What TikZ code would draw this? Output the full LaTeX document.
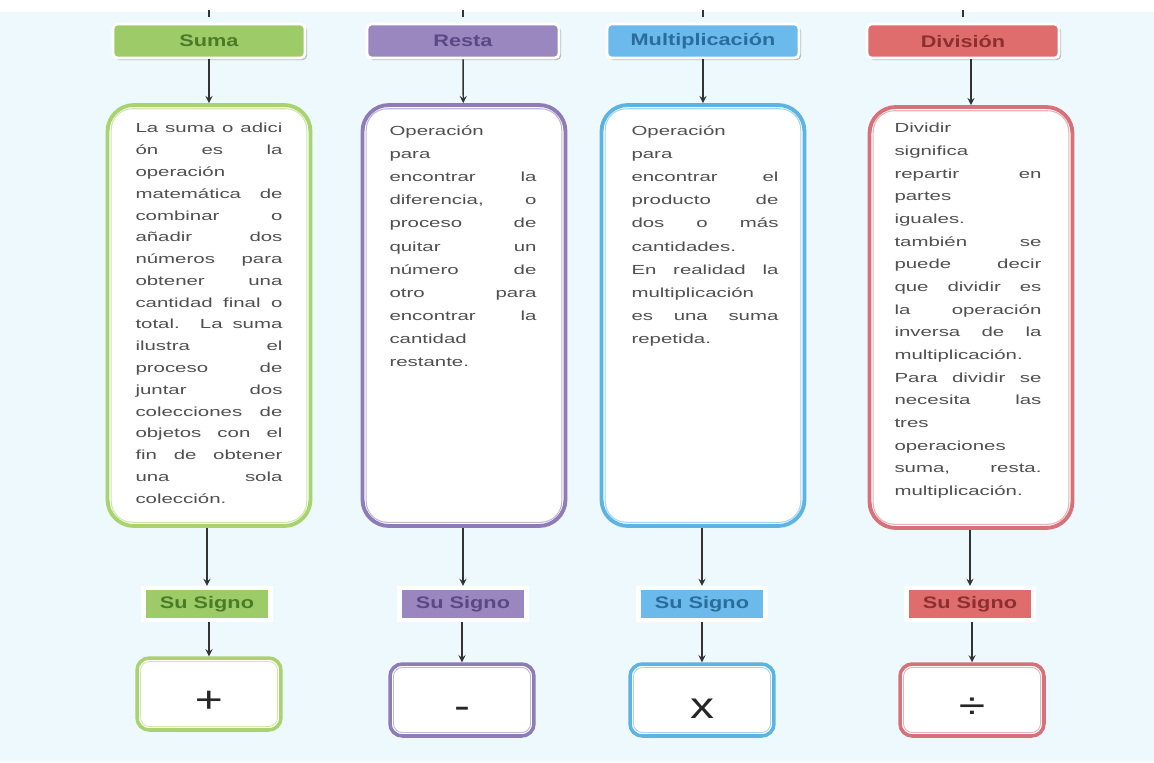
\documentclass[tikz,border=0pt]{standalone}
\usepackage{fontspec}
\usepackage{tikz}
\usetikzlibrary{arrows}
\usetikzlibrary{shadows}
\newfontfamily\bodyfont{Liberation Sans}[FakeStretch=1.55]
\newfontfamily\headfont{Liberation Sans}[FakeStretch=1.3]
\definecolor{bg}{HTML}{EDF9FC}
\definecolor{v0}{HTML}{9DCB68}
\definecolor{v1}{HTML}{9A87BF}
\definecolor{v2}{HTML}{6CBAEC}
\definecolor{v3}{HTML}{E06D6D}
\definecolor{t0}{HTML}{4C7A27}
\definecolor{t1}{HTML}{5B4985}
\definecolor{t2}{HTML}{2A6C9C}
\definecolor{t3}{HTML}{8C2F2F}
\definecolor{r0}{HTML}{A8D36E}
\definecolor{r1}{HTML}{8E7CB6}
\definecolor{r2}{HTML}{5DB3E2}
\definecolor{r3}{HTML}{D6717A}
\definecolor{txt}{HTML}{505050}
\definecolor{ar}{HTML}{333333}

\begin{document}
\begin{tikzpicture}[x=0.02cm,y=-0.02cm,
  head/.style={draw=white,line width=1.6pt,fill=#1,rounded corners=2.5pt,
    minimum width=3.84cm,minimum height=0.68cm,inner sep=0pt,
    drop shadow={shadow xshift=1.2pt,shadow yshift=-1.2pt,fill=black!50,opacity=0.5},
    font=\headfont\bfseries\fontsize{9.5}{11}\selectfont},
  box/.style={draw=#1,line width=2.2pt,fill=white,rounded corners=15pt,
    minimum width=4.06cm,minimum height=8.42cm,inner sep=0pt},
  body/.style={text width=2.94cm,align=justify,inner sep=0pt,anchor=north,text=txt,
    font=\bodyfont\fontsize{7.5}{#1}\selectfont,
    execute at begin node={\tolerance=10000\hbadness=10000\hyphenpenalty=10000}},
  signo/.style={draw=white,line width=2.4pt,fill=#1,minimum width=2.54cm,
    minimum height=0.64cm,inner sep=0pt,
    drop shadow={shadow xshift=1.2pt,shadow yshift=-1.2pt,fill=black!50,opacity=0.5},
    font=\headfont\bfseries\fontsize{9.5}{11}\selectfont},
  sign/.style={draw=#1,line width=2pt,fill=white,rounded corners=7pt,
    minimum width=2.88cm,minimum height=1.44cm,inner sep=0pt,
    text height=21pt,text depth=0pt,text=black!85,
    font=\headfont\fontsize{21}{21}\selectfont},
  arr/.style={-stealth,draw=ar,line width=0.8pt}]

\useasboundingbox (0,0) rectangle (1154,762);
\fill[white] (0,0) rectangle (1154,762);
\fill[bg] (0,12) rectangle (1154,762);

% headers
\node[head=v0,text=t0] (h1) at (209,41) {Suma};
\node[head=v1,text=t1] (h2) at (463,41) {Resta};
\node[head=v2,text=t2] (h3) at (703,41) {Multiplicación};
\node[head=v3,text=t3] (h4) at (963,41) {División};

\coordinate (p1) at (209,10);
\coordinate (p2) at (463,10);
\coordinate (p3) at (703,10);
\coordinate (p4) at (963,10);
\draw[draw=ar,line width=0.8pt,shorten >=3pt] (p1) -- (h1);
\draw[draw=ar,line width=0.8pt,shorten >=3pt] (p2) -- (h2);
\draw[draw=ar,line width=0.8pt,shorten >=3pt] (p3) -- (h3);
\draw[draw=ar,line width=0.8pt,shorten >=3pt] (p4) -- (h4);

% big boxes
\node[box=r0] (b1) at (209,315.5) {};
\node[box=r1] (b2) at (464,315.5) {};
\node[box=r2] (b3) at (703,315.5) {};
\node[box=r3] (b4) at (971,317.5) {};

% signo boxes
\node[signo=v0,text=t0] (s1) at (207,604) {Su Signo};
\node[signo=v1,text=t1] (s2) at (463,604) {Su Signo};
\node[signo=v2,text=t2] (s3) at (702,604) {Su Signo};
\node[signo=v3,text=t3] (s4) at (970,604) {Su Signo};

\node[sign=r0] (g1) at (209,694) {+};
\node[sign=r1] (g2) at (462,700) {-};
\node[sign=r2] (g3) at (702,700) {x};
\node[sign=r3] (g4) at (972,700) {÷};

\foreach \n/\c in {b1/r0,b2/r1,b3/r2,b4/r3}
  \draw[draw=\c!55,line width=0.6pt,rounded corners=12pt]
    ([shift={(3.2pt,-3.2pt)}]\n.north west) rectangle ([shift={(-3.2pt,3.2pt)}]\n.south east);
\foreach \n/\c in {g1/r0,g2/r1,g3/r2,g4/r3}
  \draw[draw=\c!55,line width=0.5pt,rounded corners=5pt]
    ([shift={(3pt,-3pt)}]\n.north west) rectangle ([shift={(-3pt,3pt)}]\n.south east);

% texts
\node[body=12.4] (t1) at (209,123) {La suma o adici\linebreak ón es la\linebreak
operación\\ matemática de\linebreak combinar o\linebreak añadir dos\linebreak
números para\linebreak obtener una\linebreak cantidad final o\linebreak
total. La suma\linebreak ilustra el\linebreak proceso de\linebreak juntar dos\linebreak
colecciones de\linebreak objetos con el\linebreak fin de obtener\linebreak
una sola\linebreak colección.};

\node[body=13.2] (t2) at (463,125) {Operación\\ para\\ encontrar la\linebreak
diferencia, o\linebreak proceso de\linebreak quitar un\linebreak número de\linebreak
otro para\linebreak encontrar la\linebreak cantidad\\ restante.};

\node[body=13.2] (t3) at (705,125) {Operación\\ para\\ encontrar el\linebreak
producto de\linebreak dos o más\linebreak cantidades.\\ En realidad la\linebreak
multiplicación\\ es una suma\linebreak repetida.};

\node[body=12.9] (t4) at (968,123) {Dividir\\ significa\\ repartir en\linebreak
partes\\ iguales.\\ también se\linebreak puede decir\linebreak que dividir es\linebreak
la operación\linebreak inversa de la\linebreak multiplicación.\\
Para dividir se\linebreak necesita las\linebreak tres\\ operaciones\\
suma, resta.\linebreak multiplicación.};

% arrows
\draw[arr] (h1) -- (b1);
\draw[arr] (h2) -- (b2);
\draw[arr] (h3) -- (b3);
\draw[arr] (b4.north |- h4.south) -- (b4);
\draw[arr] (b1.south -| s1.north) -- (s1);
\draw[arr] (b2.south -| s2.north) -- (s2);
\draw[arr] (b3.south -| s3.north) -- (s3);
\draw[arr] (b4.south -| s4.north) -- (s4);
\draw[arr] (s1.south -| g1.north) -- (g1);
\draw[arr] (s2.south -| g2.north) -- (g2);
\draw[arr] (s3) -- (g3);
\draw[arr] (s4.south -| g4.north) -- (g4);

\end{tikzpicture}
\end{document}
